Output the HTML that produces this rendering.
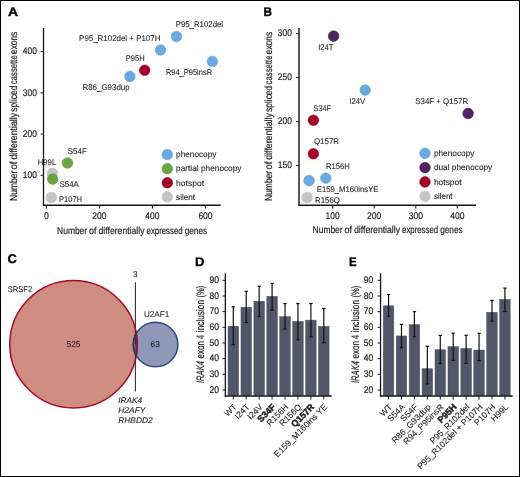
<!DOCTYPE html>
<html><head><meta charset="utf-8"><style>
html,body{margin:0;padding:0;background:#fff;}
body{width:520px;height:477px;overflow:hidden;position:relative;}
svg text{stroke:#231f20;stroke-width:0.1px;text-rendering:geometricPrecision;}
svg text.c{stroke-width:0.2px;}
svg{position:absolute;left:0;top:0;display:block;will-change:transform;font-family:"Liberation Sans",sans-serif;}
</style></head><body>
<svg width="520" height="477" viewBox="0 0 520 477">
<rect x="0" y="0" width="520" height="477" fill="#fff"/>
<text x="7.90" y="15.80" font-size="12.5" font-weight="bold" fill="#000" style="stroke:#000;stroke-width:0.35px" textLength="10.00" lengthAdjust="spacingAndGlyphs">A</text>
<line x1="43.50" y1="28.00" x2="43.50" y2="205.90" stroke="#141414" stroke-width="1.3"/>
<line x1="42.90" y1="205.30" x2="220.70" y2="205.30" stroke="#141414" stroke-width="1.4"/>
<line x1="40.50" y1="175.30" x2="43.50" y2="175.30" stroke="#231f20" stroke-width="1"/>
<text x="36.9" y="178.0" font-size="9.6" text-anchor="end" textLength="14.2" lengthAdjust="spacingAndGlyphs" fill="#231f20" class="c">100</text>
<line x1="40.50" y1="134.09" x2="43.50" y2="134.09" stroke="#231f20" stroke-width="1"/>
<text x="36.9" y="136.8" font-size="9.6" text-anchor="end" textLength="14.2" lengthAdjust="spacingAndGlyphs" fill="#231f20" class="c">200</text>
<line x1="40.50" y1="92.88" x2="43.50" y2="92.88" stroke="#231f20" stroke-width="1"/>
<text x="36.9" y="95.6" font-size="9.6" text-anchor="end" textLength="14.2" lengthAdjust="spacingAndGlyphs" fill="#231f20" class="c">300</text>
<line x1="40.50" y1="51.67" x2="43.50" y2="51.67" stroke="#231f20" stroke-width="1"/>
<text x="36.9" y="54.4" font-size="9.6" text-anchor="end" textLength="14.2" lengthAdjust="spacingAndGlyphs" fill="#231f20" class="c">400</text>
<line x1="46.40" y1="205.30" x2="46.40" y2="208.50" stroke="#231f20" stroke-width="1.1"/>
<text x="46.4" y="219.3" font-size="9.6" text-anchor="middle" textLength="4.8" lengthAdjust="spacingAndGlyphs" fill="#231f20" class="c">0</text>
<line x1="99.42" y1="205.30" x2="99.42" y2="208.50" stroke="#231f20" stroke-width="1.1"/>
<text x="99.4" y="219.3" font-size="9.6" text-anchor="middle" textLength="14.2" lengthAdjust="spacingAndGlyphs" fill="#231f20" class="c">200</text>
<line x1="152.44" y1="205.30" x2="152.44" y2="208.50" stroke="#231f20" stroke-width="1.1"/>
<text x="152.4" y="219.3" font-size="9.6" text-anchor="middle" textLength="14.2" lengthAdjust="spacingAndGlyphs" fill="#231f20" class="c">400</text>
<line x1="205.46" y1="205.30" x2="205.46" y2="208.50" stroke="#231f20" stroke-width="1.1"/>
<text x="205.5" y="219.3" font-size="9.6" text-anchor="middle" textLength="14.2" lengthAdjust="spacingAndGlyphs" fill="#231f20" class="c">600</text>
<text class="c" x="57.1" y="233.5" font-size="9.9" textLength="30.0" lengthAdjust="spacingAndGlyphs" fill="#231f20">Number</text>
<text class="c" x="89.0" y="233.5" font-size="9.9" textLength="7.5" lengthAdjust="spacingAndGlyphs" fill="#231f20">of</text>
<text class="c" x="98.5" y="233.5" font-size="9.9" textLength="46.0" lengthAdjust="spacingAndGlyphs" fill="#231f20">differentially</text>
<text class="c" x="146.6" y="233.5" font-size="9.9" textLength="36.0" lengthAdjust="spacingAndGlyphs" fill="#231f20">expressed</text>
<text class="c" x="184.7" y="233.5" font-size="9.9" textLength="22.4" lengthAdjust="spacingAndGlyphs" fill="#231f20">genes</text>
<text class="c" transform="translate(16.8,200.9) rotate(-90)" font-size="10.3" textLength="30.3" lengthAdjust="spacingAndGlyphs" fill="#231f20">Number</text>
<text class="c" transform="translate(16.8,169.4) rotate(-90)" font-size="10.3" textLength="7.9" lengthAdjust="spacingAndGlyphs" fill="#231f20">of</text>
<text class="c" transform="translate(16.8,159.5) rotate(-90)" font-size="10.3" textLength="46.6" lengthAdjust="spacingAndGlyphs" fill="#231f20">differentially</text>
<text class="c" transform="translate(16.8,111.7) rotate(-90)" font-size="10.3" textLength="26.0" lengthAdjust="spacingAndGlyphs" fill="#231f20">spliced</text>
<text class="c" transform="translate(16.8,84.2) rotate(-90)" font-size="10.3" textLength="29.0" lengthAdjust="spacingAndGlyphs" fill="#231f20">cassette</text>
<text class="c" transform="translate(16.8,54.0) rotate(-90)" font-size="10.3" textLength="22.3" lengthAdjust="spacingAndGlyphs" fill="#231f20">exons</text>
<circle cx="176.50" cy="36.50" r="5.3" fill="#6aaade" stroke="#5e9fd6" stroke-width="0.6"/>
<circle cx="160.50" cy="50.00" r="5.3" fill="#6aaade" stroke="#5e9fd6" stroke-width="0.6"/>
<circle cx="212.40" cy="61.50" r="5.3" fill="#6aaade" stroke="#5e9fd6" stroke-width="0.6"/>
<circle cx="144.70" cy="70.20" r="5.3" fill="#a3002b" stroke="#8f0024" stroke-width="0.6"/>
<circle cx="129.90" cy="76.40" r="5.3" fill="#6aaade" stroke="#5e9fd6" stroke-width="0.6"/>
<circle cx="67.50" cy="163.00" r="5.3" fill="#6ba543" stroke="#5f9a38" stroke-width="0.6"/>
<circle cx="52.30" cy="173.40" r="5.3" fill="#c5c3c8" stroke="#bbb9bf" stroke-width="0.6"/>
<circle cx="52.60" cy="179.10" r="5.3" fill="#6ba543" stroke="#5f9a38" stroke-width="0.6"/>
<circle cx="51.30" cy="197.60" r="5.3" fill="#c5c3c8" stroke="#bbb9bf" stroke-width="0.6"/>
<text x="175.7" y="27.2" font-size="8.3" textLength="47.4" lengthAdjust="spacingAndGlyphs" fill="#231f20">P95_R102del</text>
<text x="79.1" y="40.7" font-size="8.3" textLength="81.3" lengthAdjust="spacingAndGlyphs" fill="#231f20">P95_R102del + P107H</text>
<text x="125.8" y="60.8" font-size="8.3" textLength="18.9" lengthAdjust="spacingAndGlyphs" fill="#231f20">P95H</text>
<text x="165.9" y="75.2" font-size="8.3" textLength="46.2" lengthAdjust="spacingAndGlyphs" fill="#231f20">R94_P95insR</text>
<text x="82.5" y="89.8" font-size="8.3" textLength="47.1" lengthAdjust="spacingAndGlyphs" fill="#231f20">R86_G93dup</text>
<text x="67.8" y="153.8" font-size="8.3" textLength="19.0" lengthAdjust="spacingAndGlyphs" fill="#231f20">S54F</text>
<text x="37.7" y="165.2" font-size="8.3" textLength="18.5" lengthAdjust="spacingAndGlyphs" fill="#231f20">H99L</text>
<text x="59.7" y="187.1" font-size="8.3" textLength="19.0" lengthAdjust="spacingAndGlyphs" fill="#231f20">S54A</text>
<text x="58.9" y="201.8" font-size="8.3" textLength="23.2" lengthAdjust="spacingAndGlyphs" fill="#231f20">P107H</text>
<circle cx="167.30" cy="154.50" r="5.3" fill="#6aaade" stroke="#5e9fd6" stroke-width="0.6"/>
<text x="176.1" y="157.2" font-size="8.3" textLength="40.3" lengthAdjust="spacingAndGlyphs" fill="#231f20">phenocopy</text>
<circle cx="167.30" cy="168.63" r="5.3" fill="#6ba543" stroke="#5f9a38" stroke-width="0.6"/>
<text x="176.1" y="171.3" font-size="8.3" textLength="65.4" lengthAdjust="spacingAndGlyphs" fill="#231f20">partial phenocopy</text>
<circle cx="167.30" cy="182.76" r="5.3" fill="#a3002b" stroke="#8f0024" stroke-width="0.6"/>
<text x="176.1" y="185.5" font-size="8.3" textLength="27.9" lengthAdjust="spacingAndGlyphs" fill="#231f20">hotspot</text>
<circle cx="167.30" cy="196.89" r="5.3" fill="#c5c3c8" stroke="#bbb9bf" stroke-width="0.6"/>
<text x="176.1" y="199.6" font-size="8.3" textLength="19.0" lengthAdjust="spacingAndGlyphs" fill="#231f20">silent</text>
<text x="263.50" y="15.90" font-size="12.5" font-weight="bold" fill="#000" style="stroke:#000;stroke-width:0.35px" textLength="8.50" lengthAdjust="spacingAndGlyphs">B</text>
<line x1="299.00" y1="28.10" x2="299.00" y2="205.80" stroke="#3a3a3a" stroke-width="1.7"/>
<line x1="298.20" y1="205.20" x2="476.20" y2="205.20" stroke="#141414" stroke-width="1.4"/>
<line x1="296.00" y1="165.50" x2="299.00" y2="165.50" stroke="#231f20" stroke-width="1"/>
<text x="292.0" y="168.2" font-size="9.6" text-anchor="end" textLength="14.2" lengthAdjust="spacingAndGlyphs" fill="#231f20" class="c">150</text>
<line x1="296.00" y1="121.50" x2="299.00" y2="121.50" stroke="#231f20" stroke-width="1"/>
<text x="292.0" y="124.2" font-size="9.6" text-anchor="end" textLength="14.2" lengthAdjust="spacingAndGlyphs" fill="#231f20" class="c">200</text>
<line x1="296.00" y1="77.50" x2="299.00" y2="77.50" stroke="#231f20" stroke-width="1"/>
<text x="292.0" y="80.2" font-size="9.6" text-anchor="end" textLength="14.2" lengthAdjust="spacingAndGlyphs" fill="#231f20" class="c">250</text>
<line x1="296.00" y1="33.50" x2="299.00" y2="33.50" stroke="#231f20" stroke-width="1"/>
<text x="292.0" y="36.2" font-size="9.6" text-anchor="end" textLength="14.2" lengthAdjust="spacingAndGlyphs" fill="#231f20" class="c">300</text>
<line x1="332.60" y1="205.20" x2="332.60" y2="208.50" stroke="#231f20" stroke-width="1.1"/>
<text x="332.6" y="219.1" font-size="9.6" text-anchor="middle" textLength="14.2" lengthAdjust="spacingAndGlyphs" fill="#231f20" class="c">100</text>
<line x1="374.20" y1="205.20" x2="374.20" y2="208.50" stroke="#231f20" stroke-width="1.1"/>
<text x="374.2" y="219.1" font-size="9.6" text-anchor="middle" textLength="14.2" lengthAdjust="spacingAndGlyphs" fill="#231f20" class="c">200</text>
<line x1="415.80" y1="205.20" x2="415.80" y2="208.50" stroke="#231f20" stroke-width="1.1"/>
<text x="415.8" y="219.1" font-size="9.6" text-anchor="middle" textLength="14.2" lengthAdjust="spacingAndGlyphs" fill="#231f20" class="c">300</text>
<line x1="457.40" y1="205.20" x2="457.40" y2="208.50" stroke="#231f20" stroke-width="1.1"/>
<text x="457.4" y="219.1" font-size="9.6" text-anchor="middle" textLength="14.2" lengthAdjust="spacingAndGlyphs" fill="#231f20" class="c">400</text>
<text class="c" x="312.6" y="233.2" font-size="9.9" textLength="30.0" lengthAdjust="spacingAndGlyphs" fill="#231f20">Number</text>
<text class="c" x="344.5" y="233.2" font-size="9.9" textLength="7.5" lengthAdjust="spacingAndGlyphs" fill="#231f20">of</text>
<text class="c" x="354.0" y="233.2" font-size="9.9" textLength="46.0" lengthAdjust="spacingAndGlyphs" fill="#231f20">differentially</text>
<text class="c" x="402.1" y="233.2" font-size="9.9" textLength="36.0" lengthAdjust="spacingAndGlyphs" fill="#231f20">expressed</text>
<text class="c" x="440.2" y="233.2" font-size="9.9" textLength="22.4" lengthAdjust="spacingAndGlyphs" fill="#231f20">genes</text>
<text class="c" transform="translate(272.3,201.1) rotate(-90)" font-size="10.3" textLength="30.3" lengthAdjust="spacingAndGlyphs" fill="#231f20">Number</text>
<text class="c" transform="translate(272.3,169.6) rotate(-90)" font-size="10.3" textLength="7.9" lengthAdjust="spacingAndGlyphs" fill="#231f20">of</text>
<text class="c" transform="translate(272.3,159.7) rotate(-90)" font-size="10.3" textLength="46.6" lengthAdjust="spacingAndGlyphs" fill="#231f20">differentially</text>
<text class="c" transform="translate(272.3,111.9) rotate(-90)" font-size="10.3" textLength="26.0" lengthAdjust="spacingAndGlyphs" fill="#231f20">spliced</text>
<text class="c" transform="translate(272.3,84.4) rotate(-90)" font-size="10.3" textLength="29.0" lengthAdjust="spacingAndGlyphs" fill="#231f20">cassette</text>
<text class="c" transform="translate(272.3,54.2) rotate(-90)" font-size="10.3" textLength="22.3" lengthAdjust="spacingAndGlyphs" fill="#231f20">exons</text>
<circle cx="333.60" cy="36.10" r="5.3" fill="#512562" stroke="#451a57" stroke-width="0.6"/>
<circle cx="365.20" cy="90.10" r="5.3" fill="#6aaade" stroke="#5e9fd6" stroke-width="0.6"/>
<circle cx="468.10" cy="113.40" r="5.3" fill="#512562" stroke="#451a57" stroke-width="0.6"/>
<circle cx="313.40" cy="120.20" r="5.3" fill="#a3002b" stroke="#8f0024" stroke-width="0.6"/>
<circle cx="313.40" cy="153.80" r="5.3" fill="#a3002b" stroke="#8f0024" stroke-width="0.6"/>
<circle cx="325.80" cy="178.10" r="5.3" fill="#6aaade" stroke="#5e9fd6" stroke-width="0.6"/>
<circle cx="309.10" cy="180.60" r="5.3" fill="#6aaade" stroke="#5e9fd6" stroke-width="0.6"/>
<circle cx="307.20" cy="197.60" r="5.3" fill="#c5c3c8" stroke="#bbb9bf" stroke-width="0.6"/>
<text x="318.2" y="50.2" font-size="8.3" textLength="15.1" lengthAdjust="spacingAndGlyphs" fill="#231f20">I24T</text>
<text x="349.4" y="104.0" font-size="8.3" textLength="15.8" lengthAdjust="spacingAndGlyphs" fill="#231f20">I24V</text>
<text x="415.3" y="104.2" font-size="8.3" textLength="52.8" lengthAdjust="spacingAndGlyphs" fill="#231f20">S34F + Q157R</text>
<text x="313.6" y="110.9" font-size="8.3" textLength="17.4" lengthAdjust="spacingAndGlyphs" fill="#231f20">S34F</text>
<text x="313.9" y="144.2" font-size="8.3" textLength="25.2" lengthAdjust="spacingAndGlyphs" fill="#231f20">Q157R</text>
<text x="326.0" y="168.8" font-size="8.3" textLength="23.9" lengthAdjust="spacingAndGlyphs" fill="#231f20">R156H</text>
<text x="316.8" y="191.8" font-size="8.3" textLength="61.7" lengthAdjust="spacingAndGlyphs" fill="#231f20">E159_M160insYE</text>
<text x="315.0" y="202.7" font-size="8.3" textLength="24.9" lengthAdjust="spacingAndGlyphs" fill="#231f20">R156Q</text>
<circle cx="425.00" cy="153.30" r="5.3" fill="#6aaade" stroke="#5e9fd6" stroke-width="0.6"/>
<text x="433.9" y="156.1" font-size="8.3" textLength="40.5" lengthAdjust="spacingAndGlyphs" fill="#231f20">phenocopy</text>
<circle cx="425.00" cy="167.60" r="5.3" fill="#512562" stroke="#451a57" stroke-width="0.6"/>
<text x="433.9" y="170.4" font-size="8.3" textLength="58.3" lengthAdjust="spacingAndGlyphs" fill="#231f20">dual phenocopy</text>
<circle cx="425.00" cy="181.90" r="5.3" fill="#a3002b" stroke="#8f0024" stroke-width="0.6"/>
<text x="433.9" y="184.7" font-size="8.3" textLength="27.7" lengthAdjust="spacingAndGlyphs" fill="#231f20">hotspot</text>
<circle cx="425.00" cy="196.20" r="5.3" fill="#c5c3c8" stroke="#bbb9bf" stroke-width="0.6"/>
<text x="433.9" y="199.0" font-size="8.3" textLength="18.7" lengthAdjust="spacingAndGlyphs" fill="#231f20">silent</text>
<text x="7.60" y="263.20" font-size="12.5" font-weight="bold" fill="#000" style="stroke:#000;stroke-width:0.35px" textLength="9.30" lengthAdjust="spacingAndGlyphs">C</text>
<text x="7.8" y="292.0" font-size="8.3" textLength="24.3" lengthAdjust="spacingAndGlyphs" fill="#231f20">SRSF2</text>
<defs><clipPath id="bigc"><circle cx="73.5" cy="344.3" r="63.7"/></clipPath></defs>
<circle cx="73.5" cy="344.3" r="63.7" fill="#ce8d80"/>
<circle cx="155.6" cy="344.5" r="22.3" fill="#8f98b9"/>
<circle cx="155.6" cy="344.5" r="22.3" fill="#846474" clip-path="url(#bigc)"/>
<line x1="135.40" y1="282.20" x2="135.40" y2="344.50" stroke="#333" stroke-width="1.1"/>
<line x1="135.40" y1="344.50" x2="135.40" y2="352.50" stroke="#6a5060" stroke-width="1.1"/>
<line x1="135.40" y1="352.50" x2="135.40" y2="391.60" stroke="#333" stroke-width="1.1"/>
<circle cx="155.6" cy="344.5" r="22.3" fill="none" stroke="#2d4a7e" stroke-width="1.5"/>
<circle cx="73.5" cy="344.3" r="63.7" fill="none" stroke="#a50a2a" stroke-width="1.5"/>
<defs><clipPath id="bigc2"><circle cx="73.5" cy="344.3" r="64.6"/></clipPath><clipPath id="smc"><circle cx="155.6" cy="344.5" r="23.1"/></clipPath></defs>
<circle cx="155.6" cy="344.5" r="22.3" fill="none" stroke="#283560" stroke-width="1.5" clip-path="url(#bigc2)"/>
<circle cx="73.5" cy="344.3" r="63.7" fill="none" stroke="#7a1838" stroke-width="1.5" clip-path="url(#smc)"/>
<text x="135.2" y="276.8" font-size="8.3" text-anchor="middle" fill="#231f20">3</text>
<text x="143.9" y="316.6" font-size="8.3" textLength="25.4" lengthAdjust="spacingAndGlyphs" fill="#231f20">U2AF1</text>
<text x="66.5" y="347.1" font-size="8.3" textLength="13.9" lengthAdjust="spacingAndGlyphs" fill="#231f20">525</text>
<text x="155.2" y="347.2" font-size="8.3" text-anchor="middle" fill="#231f20">63</text>
<text x="118.2" y="402.6" font-size="8.3" textLength="23.9" lengthAdjust="spacingAndGlyphs" font-style="italic" fill="#231f20">IRAK4</text>
<text x="118.2" y="413.0" font-size="8.3" textLength="27.3" lengthAdjust="spacingAndGlyphs" font-style="italic" fill="#231f20">H2AFY</text>
<text x="118.2" y="423.1" font-size="8.3" textLength="34.6" lengthAdjust="spacingAndGlyphs" font-style="italic" fill="#231f20">RHBDD2</text>
<text x="195.00" y="266.10" font-size="12.5" font-weight="bold" fill="#000" style="stroke:#000;stroke-width:0.35px" textLength="9.40" lengthAdjust="spacingAndGlyphs">D</text>
<line x1="225.35" y1="273.30" x2="225.35" y2="396.50" stroke="#141414" stroke-width="1.3"/>
<rect x="228.05" y="326.25" width="10.5" height="69.30" fill="#515769" stroke="#474d61" stroke-width="0.5"/>
<rect x="240.98" y="307.25" width="10.5" height="88.30" fill="#515769" stroke="#474d61" stroke-width="0.5"/>
<rect x="253.91" y="301.25" width="10.5" height="94.30" fill="#515769" stroke="#474d61" stroke-width="0.5"/>
<rect x="266.84" y="296.35" width="10.5" height="99.20" fill="#515769" stroke="#474d61" stroke-width="0.5"/>
<rect x="279.77" y="316.65" width="10.5" height="78.90" fill="#515769" stroke="#474d61" stroke-width="0.5"/>
<rect x="292.70" y="321.45" width="10.5" height="74.10" fill="#515769" stroke="#474d61" stroke-width="0.5"/>
<rect x="305.63" y="320.15" width="10.5" height="75.40" fill="#515769" stroke="#474d61" stroke-width="0.5"/>
<rect x="318.56" y="326.35" width="10.5" height="69.20" fill="#515769" stroke="#474d61" stroke-width="0.5"/>
<line x1="233.30" y1="306.80" x2="233.30" y2="344.70" stroke="#111" stroke-width="1.2"/>
<line x1="231.60" y1="306.80" x2="235.00" y2="306.80" stroke="#111" stroke-width="1.2"/>
<line x1="231.60" y1="344.70" x2="235.00" y2="344.70" stroke="#111" stroke-width="1.2"/>
<line x1="233.30" y1="395.80" x2="233.30" y2="399.60" stroke="#231f20" stroke-width="1"/>
<line x1="246.23" y1="291.30" x2="246.23" y2="322.50" stroke="#111" stroke-width="1.2"/>
<line x1="244.53" y1="291.30" x2="247.93" y2="291.30" stroke="#111" stroke-width="1.2"/>
<line x1="244.53" y1="322.50" x2="247.93" y2="322.50" stroke="#111" stroke-width="1.2"/>
<line x1="246.23" y1="395.80" x2="246.23" y2="399.60" stroke="#231f20" stroke-width="1"/>
<line x1="259.16" y1="286.30" x2="259.16" y2="316.50" stroke="#111" stroke-width="1.2"/>
<line x1="257.46" y1="286.30" x2="260.86" y2="286.30" stroke="#111" stroke-width="1.2"/>
<line x1="257.46" y1="316.50" x2="260.86" y2="316.50" stroke="#111" stroke-width="1.2"/>
<line x1="259.16" y1="395.80" x2="259.16" y2="399.60" stroke="#231f20" stroke-width="1"/>
<line x1="272.09" y1="283.40" x2="272.09" y2="310.20" stroke="#111" stroke-width="1.2"/>
<line x1="270.39" y1="283.40" x2="273.79" y2="283.40" stroke="#111" stroke-width="1.2"/>
<line x1="270.39" y1="310.20" x2="273.79" y2="310.20" stroke="#111" stroke-width="1.2"/>
<line x1="272.09" y1="395.80" x2="272.09" y2="399.60" stroke="#231f20" stroke-width="1"/>
<line x1="285.02" y1="303.50" x2="285.02" y2="329.00" stroke="#111" stroke-width="1.2"/>
<line x1="283.32" y1="303.50" x2="286.72" y2="303.50" stroke="#111" stroke-width="1.2"/>
<line x1="283.32" y1="329.00" x2="286.72" y2="329.00" stroke="#111" stroke-width="1.2"/>
<line x1="285.02" y1="395.80" x2="285.02" y2="399.60" stroke="#231f20" stroke-width="1"/>
<line x1="297.95" y1="303.50" x2="297.95" y2="339.90" stroke="#111" stroke-width="1.2"/>
<line x1="296.25" y1="303.50" x2="299.65" y2="303.50" stroke="#111" stroke-width="1.2"/>
<line x1="296.25" y1="339.90" x2="299.65" y2="339.90" stroke="#111" stroke-width="1.2"/>
<line x1="297.95" y1="395.80" x2="297.95" y2="399.60" stroke="#231f20" stroke-width="1"/>
<line x1="310.88" y1="303.50" x2="310.88" y2="336.80" stroke="#111" stroke-width="1.2"/>
<line x1="309.18" y1="303.50" x2="312.58" y2="303.50" stroke="#111" stroke-width="1.2"/>
<line x1="309.18" y1="336.80" x2="312.58" y2="336.80" stroke="#111" stroke-width="1.2"/>
<line x1="310.88" y1="395.80" x2="310.88" y2="399.60" stroke="#231f20" stroke-width="1"/>
<line x1="323.81" y1="308.50" x2="323.81" y2="342.80" stroke="#111" stroke-width="1.2"/>
<line x1="322.11" y1="308.50" x2="325.51" y2="308.50" stroke="#111" stroke-width="1.2"/>
<line x1="322.11" y1="342.80" x2="325.51" y2="342.80" stroke="#111" stroke-width="1.2"/>
<line x1="323.81" y1="395.80" x2="323.81" y2="399.60" stroke="#231f20" stroke-width="1"/>
<line x1="224.70" y1="395.90" x2="331.70" y2="395.90" stroke="#141414" stroke-width="1.5"/>
<line x1="222.35" y1="389.99" x2="225.35" y2="389.99" stroke="#231f20" stroke-width="1"/>
<text x="219.0" y="392.6" font-size="9.6" text-anchor="end" textLength="9.5" lengthAdjust="spacingAndGlyphs" fill="#231f20" class="c">20</text>
<line x1="222.35" y1="374.32" x2="225.35" y2="374.32" stroke="#231f20" stroke-width="1"/>
<text x="219.0" y="376.9" font-size="9.6" text-anchor="end" textLength="9.5" lengthAdjust="spacingAndGlyphs" fill="#231f20" class="c">30</text>
<line x1="222.35" y1="358.65" x2="225.35" y2="358.65" stroke="#231f20" stroke-width="1"/>
<text x="219.0" y="361.2" font-size="9.6" text-anchor="end" textLength="9.5" lengthAdjust="spacingAndGlyphs" fill="#231f20" class="c">40</text>
<line x1="222.35" y1="342.98" x2="225.35" y2="342.98" stroke="#231f20" stroke-width="1"/>
<text x="219.0" y="345.6" font-size="9.6" text-anchor="end" textLength="9.5" lengthAdjust="spacingAndGlyphs" fill="#231f20" class="c">50</text>
<line x1="222.35" y1="327.31" x2="225.35" y2="327.31" stroke="#231f20" stroke-width="1"/>
<text x="219.0" y="329.9" font-size="9.6" text-anchor="end" textLength="9.5" lengthAdjust="spacingAndGlyphs" fill="#231f20" class="c">60</text>
<line x1="222.35" y1="311.64" x2="225.35" y2="311.64" stroke="#231f20" stroke-width="1"/>
<text x="219.0" y="314.2" font-size="9.6" text-anchor="end" textLength="9.5" lengthAdjust="spacingAndGlyphs" fill="#231f20" class="c">70</text>
<line x1="222.35" y1="295.97" x2="225.35" y2="295.97" stroke="#231f20" stroke-width="1"/>
<text x="219.0" y="298.6" font-size="9.6" text-anchor="end" textLength="9.5" lengthAdjust="spacingAndGlyphs" fill="#231f20" class="c">80</text>
<line x1="222.35" y1="280.30" x2="225.35" y2="280.30" stroke="#231f20" stroke-width="1"/>
<text x="219.0" y="282.9" font-size="9.6" text-anchor="end" textLength="9.5" lengthAdjust="spacingAndGlyphs" fill="#231f20" class="c">90</text>
<text transform="translate(237.3,407.5) rotate(-45)" text-anchor="end" font-size="8.6" fill="#231f20">WT</text>
<text transform="translate(250.2,407.5) rotate(-45)" text-anchor="end" font-size="8.6" fill="#231f20">I24T</text>
<text transform="translate(263.2,407.5) rotate(-45)" text-anchor="end" font-size="8.6" fill="#231f20">I24V</text>
<text transform="translate(276.1,407.5) rotate(-45)" text-anchor="end" font-size="9.0" font-weight="bold" style="stroke-width:0.45px" fill="#231f20">S34F</text>
<text transform="translate(289.0,407.5) rotate(-45)" text-anchor="end" font-size="8.6" fill="#231f20">R156H</text>
<text transform="translate(302.0,407.5) rotate(-45)" text-anchor="end" font-size="8.6" fill="#231f20">R156Q</text>
<text transform="translate(314.9,407.5) rotate(-45)" text-anchor="end" font-size="9.0" font-weight="bold" style="stroke-width:0.45px" fill="#231f20">Q157R</text>
<text transform="translate(327.8,407.5) rotate(-45)" text-anchor="end" font-size="8.6" fill="#231f20">E159_M160ins YE</text>
<text class="c" transform="translate(204.0,383.0) rotate(-90)" font-size="10.8" font-style="italic" textLength="22.0" lengthAdjust="spacingAndGlyphs" fill="#231f20">IRAK4</text>
<text class="c" transform="translate(204.0,358.4) rotate(-90)" font-size="10.8" textLength="17.4" lengthAdjust="spacingAndGlyphs" fill="#231f20">exon</text>
<text class="c" transform="translate(204.0,339.1) rotate(-90)" font-size="10.8" textLength="4.0" lengthAdjust="spacingAndGlyphs" fill="#231f20">4</text>
<text class="c" transform="translate(204.0,332.2) rotate(-90)" font-size="10.8" textLength="32.3" lengthAdjust="spacingAndGlyphs" fill="#231f20">inclusion</text>
<text class="c" transform="translate(204.0,297.4) rotate(-90)" font-size="10.8" textLength="11.7" lengthAdjust="spacingAndGlyphs" fill="#231f20">(%)</text>
<text x="349.00" y="266.10" font-size="12.5" font-weight="bold" fill="#000" style="stroke:#000;stroke-width:0.35px" textLength="7.60" lengthAdjust="spacingAndGlyphs">E</text>
<line x1="380.55" y1="273.30" x2="380.55" y2="396.50" stroke="#141414" stroke-width="1.3"/>
<rect x="383.30" y="305.85" width="10.5" height="89.70" fill="#515769" stroke="#474d61" stroke-width="0.5"/>
<rect x="396.23" y="335.95" width="10.5" height="59.60" fill="#515769" stroke="#474d61" stroke-width="0.5"/>
<rect x="409.16" y="324.65" width="10.5" height="70.90" fill="#515769" stroke="#474d61" stroke-width="0.5"/>
<rect x="422.09" y="368.75" width="10.5" height="26.80" fill="#515769" stroke="#474d61" stroke-width="0.5"/>
<rect x="435.02" y="349.75" width="10.5" height="45.80" fill="#515769" stroke="#474d61" stroke-width="0.5"/>
<rect x="447.95" y="346.65" width="10.5" height="48.90" fill="#515769" stroke="#474d61" stroke-width="0.5"/>
<rect x="460.88" y="348.45" width="10.5" height="47.10" fill="#515769" stroke="#474d61" stroke-width="0.5"/>
<rect x="473.81" y="350.05" width="10.5" height="45.50" fill="#515769" stroke="#474d61" stroke-width="0.5"/>
<rect x="486.74" y="312.35" width="10.5" height="83.20" fill="#515769" stroke="#474d61" stroke-width="0.5"/>
<rect x="499.67" y="299.45" width="10.5" height="96.10" fill="#515769" stroke="#474d61" stroke-width="0.5"/>
<line x1="388.55" y1="294.50" x2="388.55" y2="316.30" stroke="#111" stroke-width="1.2"/>
<line x1="386.85" y1="294.50" x2="390.25" y2="294.50" stroke="#111" stroke-width="1.2"/>
<line x1="386.85" y1="316.30" x2="390.25" y2="316.30" stroke="#111" stroke-width="1.2"/>
<line x1="388.55" y1="395.80" x2="388.55" y2="399.60" stroke="#231f20" stroke-width="1"/>
<line x1="401.48" y1="324.40" x2="401.48" y2="347.80" stroke="#111" stroke-width="1.2"/>
<line x1="399.78" y1="324.40" x2="403.18" y2="324.40" stroke="#111" stroke-width="1.2"/>
<line x1="399.78" y1="347.80" x2="403.18" y2="347.80" stroke="#111" stroke-width="1.2"/>
<line x1="401.48" y1="395.80" x2="401.48" y2="399.60" stroke="#231f20" stroke-width="1"/>
<line x1="414.41" y1="311.70" x2="414.41" y2="336.70" stroke="#111" stroke-width="1.2"/>
<line x1="412.71" y1="311.70" x2="416.11" y2="311.70" stroke="#111" stroke-width="1.2"/>
<line x1="412.71" y1="336.70" x2="416.11" y2="336.70" stroke="#111" stroke-width="1.2"/>
<line x1="414.41" y1="395.80" x2="414.41" y2="399.60" stroke="#231f20" stroke-width="1"/>
<line x1="427.34" y1="346.20" x2="427.34" y2="384.00" stroke="#111" stroke-width="1.2"/>
<line x1="425.64" y1="346.20" x2="429.04" y2="346.20" stroke="#111" stroke-width="1.2"/>
<line x1="425.64" y1="384.00" x2="429.04" y2="384.00" stroke="#111" stroke-width="1.2"/>
<line x1="427.34" y1="395.80" x2="427.34" y2="399.60" stroke="#231f20" stroke-width="1"/>
<line x1="440.27" y1="335.40" x2="440.27" y2="363.50" stroke="#111" stroke-width="1.2"/>
<line x1="438.57" y1="335.40" x2="441.97" y2="335.40" stroke="#111" stroke-width="1.2"/>
<line x1="438.57" y1="363.50" x2="441.97" y2="363.50" stroke="#111" stroke-width="1.2"/>
<line x1="440.27" y1="395.80" x2="440.27" y2="399.60" stroke="#231f20" stroke-width="1"/>
<line x1="453.20" y1="333.20" x2="453.20" y2="360.40" stroke="#111" stroke-width="1.2"/>
<line x1="451.50" y1="333.20" x2="454.90" y2="333.20" stroke="#111" stroke-width="1.2"/>
<line x1="451.50" y1="360.40" x2="454.90" y2="360.40" stroke="#111" stroke-width="1.2"/>
<line x1="453.20" y1="395.80" x2="453.20" y2="399.60" stroke="#231f20" stroke-width="1"/>
<line x1="466.13" y1="335.30" x2="466.13" y2="363.30" stroke="#111" stroke-width="1.2"/>
<line x1="464.43" y1="335.30" x2="467.83" y2="335.30" stroke="#111" stroke-width="1.2"/>
<line x1="464.43" y1="363.30" x2="467.83" y2="363.30" stroke="#111" stroke-width="1.2"/>
<line x1="466.13" y1="395.80" x2="466.13" y2="399.60" stroke="#231f20" stroke-width="1"/>
<line x1="479.06" y1="333.40" x2="479.06" y2="360.60" stroke="#111" stroke-width="1.2"/>
<line x1="477.36" y1="333.40" x2="480.76" y2="333.40" stroke="#111" stroke-width="1.2"/>
<line x1="477.36" y1="360.60" x2="480.76" y2="360.60" stroke="#111" stroke-width="1.2"/>
<line x1="479.06" y1="395.80" x2="479.06" y2="399.60" stroke="#231f20" stroke-width="1"/>
<line x1="491.99" y1="300.40" x2="491.99" y2="321.10" stroke="#111" stroke-width="1.2"/>
<line x1="490.29" y1="300.40" x2="493.69" y2="300.40" stroke="#111" stroke-width="1.2"/>
<line x1="490.29" y1="321.10" x2="493.69" y2="321.10" stroke="#111" stroke-width="1.2"/>
<line x1="491.99" y1="395.80" x2="491.99" y2="399.60" stroke="#231f20" stroke-width="1"/>
<line x1="504.92" y1="288.10" x2="504.92" y2="311.50" stroke="#111" stroke-width="1.2"/>
<line x1="503.22" y1="288.10" x2="506.62" y2="288.10" stroke="#111" stroke-width="1.2"/>
<line x1="503.22" y1="311.50" x2="506.62" y2="311.50" stroke="#111" stroke-width="1.2"/>
<line x1="504.92" y1="395.80" x2="504.92" y2="399.60" stroke="#231f20" stroke-width="1"/>
<line x1="379.90" y1="395.90" x2="512.70" y2="395.90" stroke="#141414" stroke-width="1.5"/>
<line x1="377.55" y1="389.99" x2="380.55" y2="389.99" stroke="#231f20" stroke-width="1"/>
<text x="373.3" y="392.6" font-size="9.6" text-anchor="end" textLength="9.5" lengthAdjust="spacingAndGlyphs" fill="#231f20" class="c">20</text>
<line x1="377.55" y1="374.32" x2="380.55" y2="374.32" stroke="#231f20" stroke-width="1"/>
<text x="373.3" y="376.9" font-size="9.6" text-anchor="end" textLength="9.5" lengthAdjust="spacingAndGlyphs" fill="#231f20" class="c">30</text>
<line x1="377.55" y1="358.65" x2="380.55" y2="358.65" stroke="#231f20" stroke-width="1"/>
<text x="373.3" y="361.2" font-size="9.6" text-anchor="end" textLength="9.5" lengthAdjust="spacingAndGlyphs" fill="#231f20" class="c">40</text>
<line x1="377.55" y1="342.98" x2="380.55" y2="342.98" stroke="#231f20" stroke-width="1"/>
<text x="373.3" y="345.6" font-size="9.6" text-anchor="end" textLength="9.5" lengthAdjust="spacingAndGlyphs" fill="#231f20" class="c">50</text>
<line x1="377.55" y1="327.31" x2="380.55" y2="327.31" stroke="#231f20" stroke-width="1"/>
<text x="373.3" y="329.9" font-size="9.6" text-anchor="end" textLength="9.5" lengthAdjust="spacingAndGlyphs" fill="#231f20" class="c">60</text>
<line x1="377.55" y1="311.64" x2="380.55" y2="311.64" stroke="#231f20" stroke-width="1"/>
<text x="373.3" y="314.2" font-size="9.6" text-anchor="end" textLength="9.5" lengthAdjust="spacingAndGlyphs" fill="#231f20" class="c">70</text>
<line x1="377.55" y1="295.97" x2="380.55" y2="295.97" stroke="#231f20" stroke-width="1"/>
<text x="373.3" y="298.6" font-size="9.6" text-anchor="end" textLength="9.5" lengthAdjust="spacingAndGlyphs" fill="#231f20" class="c">80</text>
<line x1="377.55" y1="280.30" x2="380.55" y2="280.30" stroke="#231f20" stroke-width="1"/>
<text x="373.3" y="282.9" font-size="9.6" text-anchor="end" textLength="9.5" lengthAdjust="spacingAndGlyphs" fill="#231f20" class="c">90</text>
<text transform="translate(392.6,407.5) rotate(-45)" text-anchor="end" font-size="8.6" fill="#231f20">WT</text>
<text transform="translate(405.5,407.5) rotate(-45)" text-anchor="end" font-size="8.6" fill="#231f20">S54A</text>
<text transform="translate(418.4,407.5) rotate(-45)" text-anchor="end" font-size="8.6" fill="#231f20">S54F</text>
<text transform="translate(431.3,407.5) rotate(-45)" text-anchor="end" font-size="8.6" fill="#231f20">R86_G93dup</text>
<text transform="translate(444.3,407.5) rotate(-45)" text-anchor="end" font-size="8.6" fill="#231f20">R94_P95insR</text>
<text transform="translate(457.2,407.5) rotate(-45)" text-anchor="end" font-size="9.0" font-weight="bold" style="stroke-width:0.45px" fill="#231f20">P95H</text>
<text transform="translate(470.1,407.5) rotate(-45)" text-anchor="end" font-size="8.6" fill="#231f20">P95_R102del</text>
<text transform="translate(483.1,407.5) rotate(-45)" text-anchor="end" font-size="8.6" fill="#231f20">P95_R102del + P107H</text>
<text transform="translate(496.0,407.5) rotate(-45)" text-anchor="end" font-size="8.6" fill="#231f20">P107H</text>
<text transform="translate(508.9,407.5) rotate(-45)" text-anchor="end" font-size="8.6" fill="#231f20">H99L</text>
<text class="c" transform="translate(358.7,383.0) rotate(-90)" font-size="10.8" font-style="italic" textLength="22.0" lengthAdjust="spacingAndGlyphs" fill="#231f20">IRAK4</text>
<text class="c" transform="translate(358.7,358.4) rotate(-90)" font-size="10.8" textLength="17.4" lengthAdjust="spacingAndGlyphs" fill="#231f20">exon</text>
<text class="c" transform="translate(358.7,339.1) rotate(-90)" font-size="10.8" textLength="4.0" lengthAdjust="spacingAndGlyphs" fill="#231f20">4</text>
<text class="c" transform="translate(358.7,332.2) rotate(-90)" font-size="10.8" textLength="32.3" lengthAdjust="spacingAndGlyphs" fill="#231f20">inclusion</text>
<text class="c" transform="translate(358.7,297.4) rotate(-90)" font-size="10.8" textLength="11.7" lengthAdjust="spacingAndGlyphs" fill="#231f20">(%)</text>
<rect x="0.5" y="0.5" width="519" height="476" fill="none" stroke="#000" stroke-width="1"/>
</svg>
</body></html>
